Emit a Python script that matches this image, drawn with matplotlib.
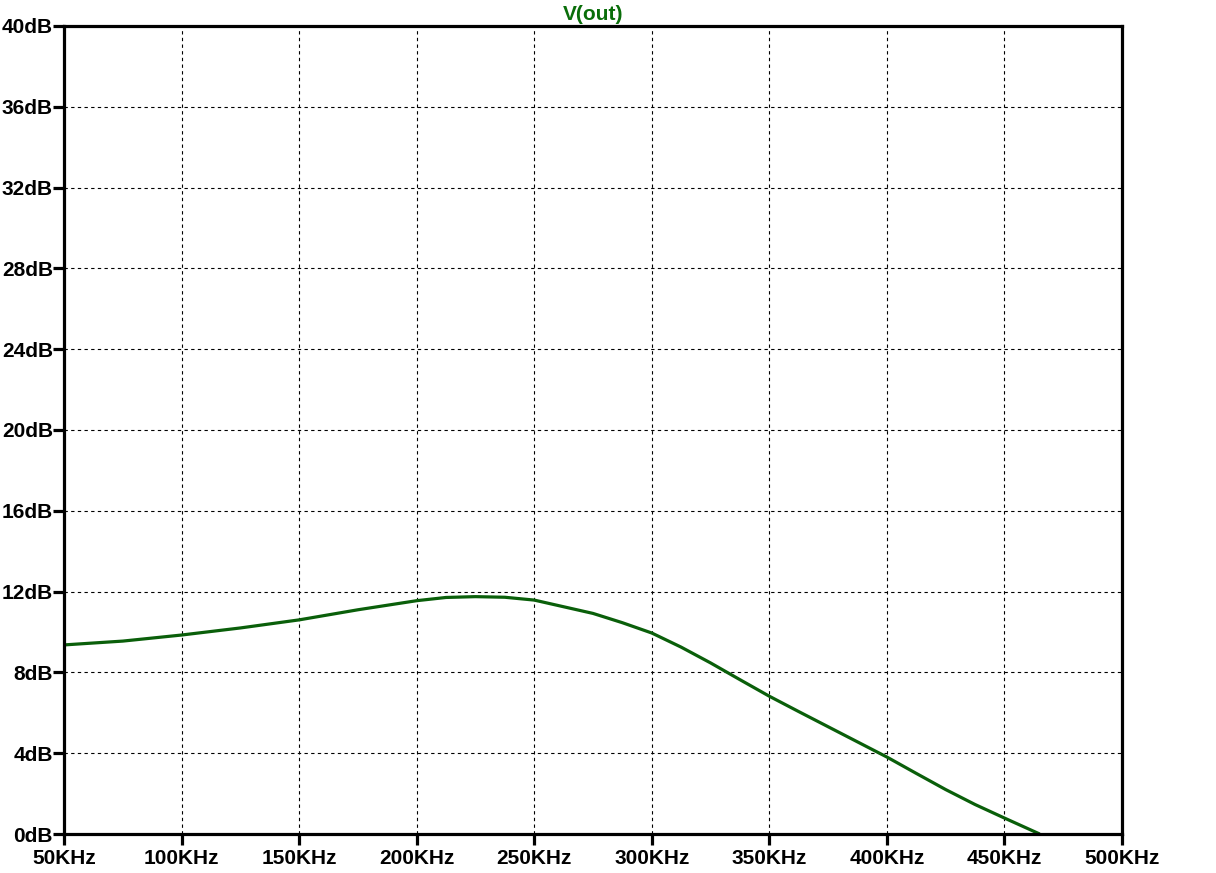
import matplotlib
matplotlib.use("Agg")
import matplotlib.pyplot as plt

freq_khz = [50, 75, 100, 125, 150, 175, 200, 212.5, 225, 237.5, 250, 262.5, 275, 287.5,
            300, 312.5, 325, 337.5, 350, 362.5, 375, 387.5, 400, 412.5, 425, 437.5, 450, 465]
gain_db = [9.36, 9.55, 9.85, 10.2, 10.6, 11.1, 11.55, 11.71, 11.75, 11.72, 11.58, 11.25, 10.92, 10.46,
           9.95, 9.25, 8.47, 7.64, 6.82, 6.06, 5.31, 4.56, 3.81, 3.0, 2.2, 1.46, 0.79, 0.0]

x_ticks = [50, 100, 150, 200, 250, 300, 350, 400, 450, 500]
y_ticks = [0, 4, 8, 12, 16, 20, 24, 28, 32, 36, 40]
title = "V(out)"

plt.rcParams['font.family'] = ['Liberation Sans', 'DejaVu Sans']
fig = plt.figure(figsize=(12.16, 8.73), dpi=100)
ax = fig.add_axes([64/1216, 39/873, (1122-64)/1216, (834-26)/873])

ax.plot(freq_khz, gain_db, color='#0a5f0a', linewidth=2.3, solid_capstyle='butt')
ax.set_xlim(50, 500)
ax.set_ylim(0, 40)
ax.set_xticks(x_ticks)
ax.set_yticks(y_ticks)
ax.set_xticklabels([f"{v}KHz" for v in x_ticks])
ax.set_yticklabels([f"{v}dB" for v in y_ticks])
ax.grid(True, color='black', linestyle=(0, (3, 3)), linewidth=0.8)
for s in ax.spines.values():
    s.set_linewidth(2.3)
ax.tick_params(axis='both', direction='out', length=8, width=2.3, labelsize=15,
               top=False, right=False)
ax.tick_params(axis='y', pad=0)
ax.tick_params(axis='x', pad=3)
for lab in ax.get_xticklabels() + ax.get_yticklabels():
    lab.set_fontweight('bold')
ax.set_title(title, color='#0a6e0a', fontsize=15, fontweight='bold', pad=4)

fig.savefig("out.png", dpi=100)
